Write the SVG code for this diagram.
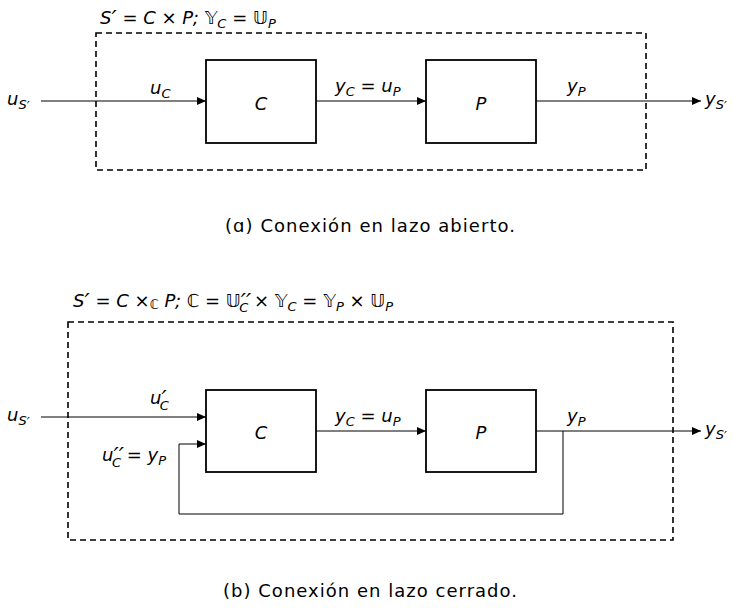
<svg xmlns="http://www.w3.org/2000/svg" width="733" height="608" viewBox="0 0 733 608">
<style>
.m{font-family:"DejaVu Sans",sans-serif;font-style:italic;font-size:18px;fill:#000}
.s{font-size:13px}
.pr{font-size:23px}
.n{font-style:normal}
.cap{font-family:"DejaVu Sans",sans-serif;font-size:18px;fill:#000}
.blk{fill:#fff;stroke:#000;stroke-width:1.8}
.dash{fill:none;stroke:#000;stroke-width:1.6;stroke-dasharray:6,4}
.ln{fill:none;stroke:#000;stroke-width:1}
</style>
<defs>
<marker id="ah" markerWidth="9" markerHeight="8" refX="9" refY="4" orient="auto" markerUnits="userSpaceOnUse">
<path d="M0,0 L9,4 L0,8 z" fill="#000"/>
</marker>
</defs>

<!-- (a) open loop -->
<g id="frame-a">
<rect class="dash" x="96" y="33" width="550" height="137"/>
<text class="m" x="100" y="24">S<tspan class="pr" dy="3">′</tspan><tspan dy="-3"> = C × P; </tspan><tspan class="n">𝕐</tspan><tspan class="s" dy="4">C</tspan><tspan dy="-4"> = </tspan><tspan class="n">𝕌</tspan><tspan class="s" dy="4">P</tspan></text>
</g>
<g id="C-a">
<rect class="blk" x="206" y="60" width="110" height="83"/>
<text class="m" x="261" y="110" text-anchor="middle">C</text>
</g>
<g id="P-a">
<rect class="blk" x="426" y="60" width="110" height="83"/>
<text class="m" x="481" y="110" text-anchor="middle">P</text>
</g>
<g id="connectors-a">
<line class="ln" x1="41" y1="101" x2="206" y2="101" marker-end="url(#ah)"/>
<line class="ln" x1="316" y1="101" x2="426" y2="101" marker-end="url(#ah)"/>
<line class="ln" x1="536" y1="101" x2="701" y2="101" marker-end="url(#ah)"/>
</g>
<g id="labels-a">
<text class="m" x="7" y="105">u<tspan class="s" dy="4">S</tspan><tspan class="s" font-size="16" dy="1">′</tspan></text>
<text class="m" x="150" y="94">u<tspan class="s" dy="4">C</tspan></text>
<text class="m" x="335" y="92">y<tspan class="s" dy="4">C</tspan><tspan dy="-4"> = u</tspan><tspan class="s" dy="4">P</tspan></text>
<text class="m" x="567" y="92">y<tspan class="s" dy="4">P</tspan></text>
<text class="m" x="705" y="105">y<tspan class="s" dy="4">S</tspan><tspan class="s" font-size="16" dy="1">′</tspan></text>
</g>
<text class="cap" x="370" y="232" text-anchor="middle" textLength="290" lengthAdjust="spacing">(ɑ) Conexión en lazo abierto.</text>

<!-- (b) closed loop -->
<g id="frame-b">
<rect class="dash" x="68" y="322" width="605" height="218"/>
<text class="m" x="73" y="307">S<tspan class="pr" dy="3">′</tspan><tspan dy="-3"> = C ×</tspan><tspan class="s n" dy="2">ℂ</tspan><tspan dy="-2"> P; </tspan><tspan class="n">ℂ = 𝕌</tspan><tspan class="pr" dy="3">′′</tspan><tspan class="s" dx="-12" dy="2">C</tspan><tspan dy="-5"> × </tspan><tspan class="n">𝕐</tspan><tspan class="s" dy="4">C</tspan><tspan dy="-4"> = </tspan><tspan class="n">𝕐</tspan><tspan class="s" dy="4">P</tspan><tspan dy="-4"> × </tspan><tspan class="n">𝕌</tspan><tspan class="s" dy="4">P</tspan></text>
</g>
<g id="C-b">
<rect class="blk" x="206" y="390" width="110" height="82"/>
<text class="m" x="261" y="439" text-anchor="middle">C</text>
</g>
<g id="P-b">
<rect class="blk" x="426" y="390" width="110" height="82"/>
<text class="m" x="481" y="439" text-anchor="middle">P</text>
</g>
<g id="connectors-b">
<line class="ln" x1="41" y1="417" x2="206" y2="417" marker-end="url(#ah)"/>
<line class="ln" x1="316" y1="431" x2="426" y2="431" marker-end="url(#ah)"/>
<line class="ln" x1="536" y1="431" x2="701" y2="431" marker-end="url(#ah)"/>
<polyline class="ln" points="563,431 563,514 179,514 179,444 206,444" marker-end="url(#ah)"/>
</g>
<g id="labels-b">
<text class="m" x="7" y="421">u<tspan class="s" dy="4">S</tspan><tspan class="s" font-size="16" dy="1">′</tspan></text>
<text class="m" x="150" y="404">u<tspan class="pr" dy="3">′</tspan><tspan class="s" dx="-7" dy="3">C</tspan></text>
<text class="m" x="102" y="461">u<tspan class="pr" dy="3">′′</tspan><tspan class="s" dx="-12" dy="3">C</tspan><tspan dy="-6"> = y</tspan><tspan class="s" dy="4">P</tspan></text>
<text class="m" x="335" y="422">y<tspan class="s" dy="4">C</tspan><tspan dy="-4"> = u</tspan><tspan class="s" dy="4">P</tspan></text>
<text class="m" x="567" y="422">y<tspan class="s" dy="4">P</tspan></text>
<text class="m" x="705" y="435">y<tspan class="s" dy="4">S</tspan><tspan class="s" font-size="16" dy="1">′</tspan></text>
</g>
<text class="cap" x="370" y="597" text-anchor="middle" textLength="294" lengthAdjust="spacing">(b) Conexión en lazo cerrado.</text>
</svg>
